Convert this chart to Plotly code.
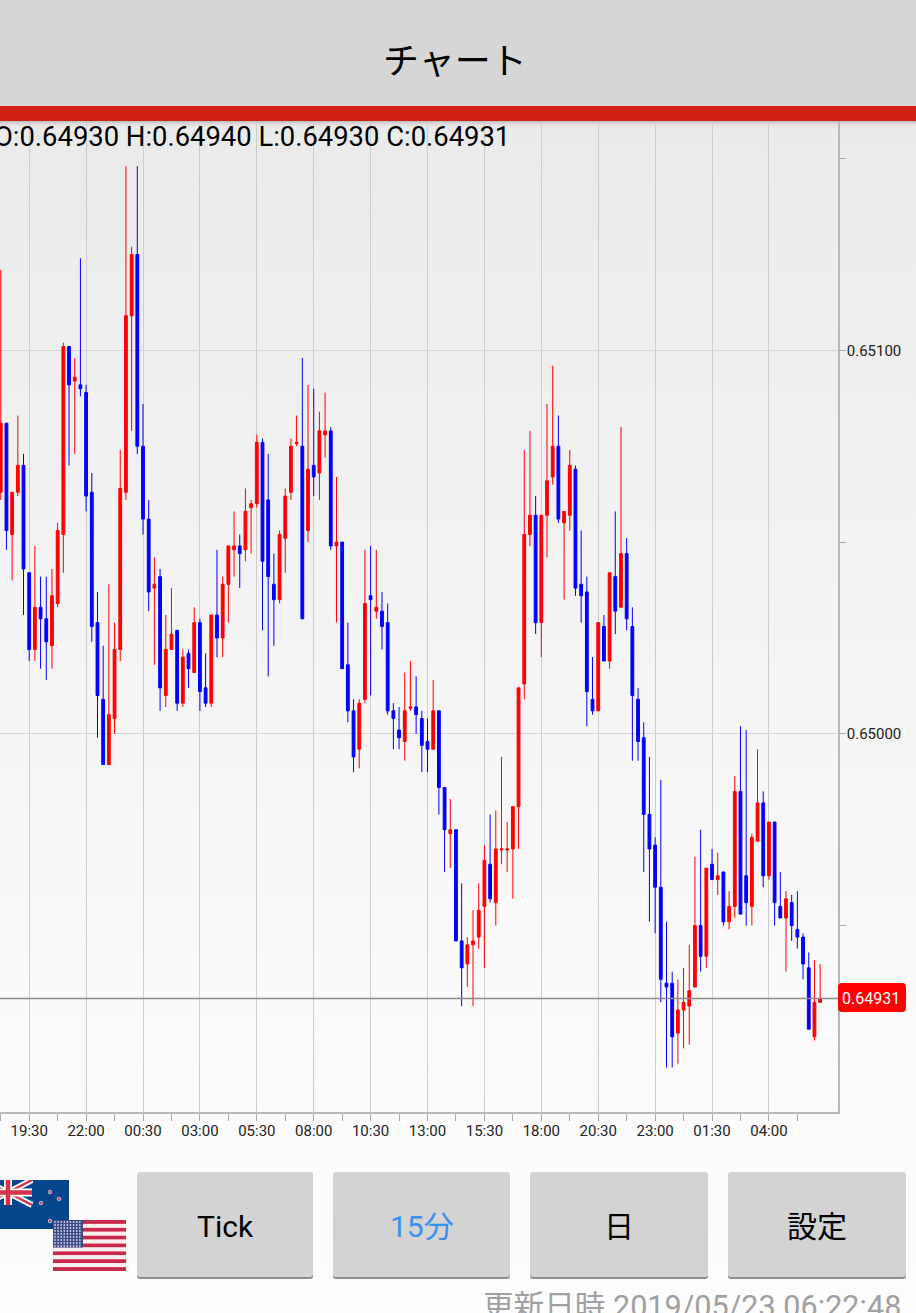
import base64
import pandas as pd
import plotly.graph_objects as go

W, H = 916, 1313
PL, PR, PT, PB = 0, 838, 121, 1112

times = pd.date_range("2019-05-21 18:15", periods=145, freq="15min")

open_pts = [65063,65081,65052,65063,65070,65042,65022,65033,65030,65023,
65034,65052,65101,65092,65091,65089,65063,65029,65009,64992,
65004,65022,65063,65109,65125,65075,65056,65038,65041,65010,
65022,65027,65008,65021,65016,65029,65012,65008,65031,65025,
65039,65048,65049,65048,65059,65060,65076,65061,65039,65035,
65051,65063,65075.7,65075,65053,65070,65068,65078,65079,65049,
65050,65018,65006,64996,65009,65036,65032,65032,65029,65006,
65001,64998,65006.7,65007,65004,64998,64996,65006,64986,64974,
64975,64946,64940,64945,64947,64955,64966,64956,64969.7,64969.7,
64970,64981,65013,65052,65057,65029,65057,65067,65075,65055,
65057,65069,65039,65037,65009,65006,65028,65019,65041,65033,
65047,65028,65009,64999,64979,64971,64960,64935,64935,64922,
64928,64929,64934,64950,64942,64966,64962,64964,64951,64955,
64985,64963,64955,64972,64982,64963,64977,64955,64952,64956,
64949,64947,64939,64921,64930]

close_pts = [65081,65053,65063,65070,65043,65022,65033,65030,65024,65036,
65053,65101,65091,65093,65090,65062,65028,65010,64992,65005,
65022,65064,65109,65125,65075,65056,65037,65039,65012,65022,
65026,65008,65020,65017,65029,65011,65008,65031,65025,65039,
65049,65049,65047,65058,65060,65076,65045,65041,65035,65052,
65062,65075,65076,65030,65069,65067,65079,65079,65049,65050,
65017,65006,64994,65008,65034,65035,65033,65028,65006,65004,
64999,65006,65007,65005,64997,64996,65006,64986,64975,64975,
64946,64939,64945,64946,64954,64967,64957,64970,64970,64970,
64981,65012,65052,65057,65029,65057,65066,65075,65056,65058,
65070,65038,65036,65011,65006,65029,65019,65042,65032,65047,
65030,65010,64998,64979,64970,64960,64936,64934,64921,64928,
64930,64933,64950,64942,64965,64962,64963,64951,64955,64985,
64953,64956,64973,64982,64963,64977,64956,64952,64957,64950,
64947,64940,64923,64930,64931]

high_pts = [65121,65081,65063,65083,65073,65042,65049,65041,65041,65043,
65055,65102,65101,65098,65124,65091,65068,65037,65023,65039,
65029,65074,65148,65127,65148,65086,65061,65046,65043,65031,
65038,65027,65022,65022,65033,65030,65021,65031,65048,65041,
65049,65058,65052,65064,65061,65078,65077,65073,65047,65053,
65064,65077,65083,65098,65091,65090,65084,65089,65080,65067,
65050,65029,65009,65009,65048,65049,65048,65037,65034,65008,
65007,65016,65019,65015,65006,65004,65014,65006,64986,64983,
64975,64961,64947,64954,64961,64971,64979,64980,64994,64977,
64981,65012,65074,65079,65062,65057,65086,65096,65083,65058,
65074,65070,65053,65041,65020,65029,65031,65042,65058,65080,
65051,65033,65012,65003,64994,64973,64988,64951,64938,64936,
64939,64945,64968,64975,64965,64970,64969,64964,64959,64989,
65002,65001,64974,64996,64985,64977,64977,64964,64959,64958,
64959,64948,64943,64941,64940]

low_pts = [65061,65048,65040,65062,65031,65019,65019,65017,65014,65017,
65033,65042,65070,65073,65088,65058,65024,64999,64992,64992,
65000,65019,65061,65079,65073,65052,65032,65018,65006,65007,
65022,65006,65007,65012,65016,65006,65007,65007,65020,65020,
65029,65041,65038,65045,65047,65059,65027,65015,65023,65034,
65042,65061,65075,65030,65050,65062,65061,65072,65048,65029,
65017,65003,64990,64991,65008,65010,65030,65022,65005,64996,
64996,64993,65006,65000,64990,64990,64996,64979,64964,64965,
64946,64929,64934,64929,64944,64939,64956,64950,64966,64964,
64957,64970,65009,65049,65026,65020,65046,65065,65055,65035,
65053,65036,65029,65002,65005,65006,65019,65017,65026,65033,
65027,64993,64993,64964,64951,64948,64930,64913,64913,64914,
64918,64919,64934,64938,64939,64962,64958,64950,64949,64952,
64953,64950,64950,64972,64960,64962,64950,64952,64938,64946,
64944,64936,64923,64920,64930]

time_labels = ["19:30","22:00","00:30","03:00","05:30","08:00","10:30","13:00",
               "15:30","18:00","20:30","23:00","01:30","04:00"]
price_major = [0.65, 0.651]
price_minor = [0.6495, 0.6505, 0.6515]
last_price = 0.64931
ohlc_text = "O:0.64930 H:0.64940 L:0.64930 C:0.64931"
updated_text = "更新日時 2019/05/23 06:22:48"
buttons = [("Tick", "#000000"), ("15分", "#3a8fee"), ("日", "#000000"), ("設定", "#000000")]


def scale(v):
    return [p * 1e-5 for p in v]


def px(x):
    return (x - PL) / (PR - PL)


def py(y):
    return (PB - y) / (PB - PT)


def svg_uri(svg):
    return "data:image/svg+xml;base64," + base64.b64encode(svg.encode()).decode()


def rrect(x0, y0, x1, y1, r):
    X0, X1, Y0, Y1 = px(x0), px(x1), py(y0), py(y1)
    rx, ry = r / (PR - PL), r / (PB - PT)
    return (f"M{X0+rx},{Y0} L{X1-rx},{Y0} Q{X1},{Y0} {X1},{Y0-ry} L{X1},{Y1+ry} "
            f"Q{X1},{Y1} {X1-rx},{Y1} L{X0+rx},{Y1} Q{X0},{Y1} {X0},{Y1+ry} L{X0},{Y0-ry} Q{X0},{Y0} {X0+rx},{Y0} Z")


def rect(x0, y0, x1, y1, color, layer="above"):
    return dict(type="rect", xref="paper", yref="paper", x0=px(x0), x1=px(x1), y0=py(y0), y1=py(y1),
                fillcolor=color, line_width=0, layer=layer)


def label(x, y, text, size, color, anchor="center", family="Roboto", vanchor="middle"):
    return dict(xref="paper", yref="paper", x=px(x), y=py(y), text=text, showarrow=False, xanchor=anchor,
                yanchor=vanchor, font=dict(size=size, color=color, family=family))


background = f"""<svg xmlns='http://www.w3.org/2000/svg' width='{W}' height='{H}' preserveAspectRatio='none'>
<defs><linearGradient id='g' x1='0' y1='0' x2='0' y2='1'>
<stop offset='0' stop-color='#e8e8e8'/><stop offset='0.80' stop-color='#fbfbfb'/><stop offset='1' stop-color='#fdfdfd'/>
</linearGradient><linearGradient id='s' x1='0' y1='0' x2='0' y2='1'>
<stop offset='0' stop-color='#bdbdbd'/><stop offset='1' stop-color='#e8e8e8' stop-opacity='0'/>
</linearGradient></defs>
<rect width='{W}' height='{H}' fill='url(#g)'/><rect y='121' width='{W}' height='7' fill='url(#s)'/></svg>"""

nz_flag = """<svg xmlns='http://www.w3.org/2000/svg' width='85' height='49' viewBox='0 0 85 49' preserveAspectRatio='none'>
<rect width='85' height='49' fill='#03468c'/>
<g><rect width='48' height='25' fill='#03468c'/>
<path d='M0 0L48 25M48 0L0 25' stroke='#fff' stroke-width='6'/>
<path d='M0 0L48 25M48 0L0 25' stroke='#d8324a' stroke-width='2.4'/>
<path d='M24 0V25M0 12.5H48' stroke='#fff' stroke-width='8'/>
<path d='M24 0V25M0 12.5H48' stroke='#d8324a' stroke-width='4.5'/></g>
<g fill='#d0455f' stroke='#fff' stroke-width='0.6'><circle cx='66' cy='12' r='1.8'/><circle cx='75' cy='19' r='1.8'/>
<circle cx='57' cy='23' r='1.8'/><circle cx='66' cy='41' r='1.8'/></g></svg>"""

us_stripes = "".join(
    f"<rect y='{i * 51 / 13:.2f}' width='73' height='{51 / 13:.2f}' fill='{'#c8284a' if i % 2 == 0 else '#f6f0f0'}'/>"
    for i in range(13))
us_stars = "".join(f"<circle cx='{2 + c * 3.1:.1f}' cy='{2 + r * 3.0:.1f}' r='0.9' fill='#c8cce0'/>"
                   for r in range(9) for c in range(9))
us_flag = f"""<svg xmlns='http://www.w3.org/2000/svg' width='73' height='51' viewBox='0 0 73 51' preserveAspectRatio='none'>
{us_stripes}<rect width='30' height='27.5' fill='#3c4a86'/>{us_stars}</svg>"""

fig = go.Figure(go.Candlestick(
    x=times,
    open=scale(open_pts), high=scale(high_pts), low=scale(low_pts), close=scale(close_pts),
    increasing=dict(line=dict(color="#ff0000", width=1), fillcolor="#ff0000"),
    decreasing=dict(line=dict(color="#0000ff", width=1), fillcolor="#0000ff"),
    showlegend=False,
))

shapes = [
    rect(-1, 0, W, 106, "#d6d6d6"),
    rect(-1, 106, W, 121, "#d02014"),
    dict(type="line", xref="paper", yref="y", x0=0, x1=1, y0=last_price, y1=last_price,
         line=dict(color="#8a8a8a", width=1.5), layer="above"),
    dict(type="path", xref="paper", yref="paper", path=rrect(838, 983, 906, 1012, 4),
         fillcolor="#ff0000", line_width=0, layer="above"),
]
button_boxes = [(137, 313), (333, 510), (530, 708), (728, 906)]
annotations = [
    label(455, 58, "チャート", 36, "#000000", family="Noto Sans CJK JP"),
    label(-8, 137, ohlc_text, 27.4, "#000000", anchor="left"),
    label(871, 998, "0.64931", 16, "#ffffff"),
    label(903, 1306, updated_text, 30.6, "#a0a0a0", anchor="right", family="Roboto, Noto Sans CJK JP"),
]
for (x0, x1), (text, color) in zip(button_boxes, buttons):
    shapes.append(dict(type="path", xref="paper", yref="paper", path=rrect(x0, 1174, x1, 1279, 3),
                       fillcolor="#8c8c8c", line_width=0, layer="above"))
    shapes.append(dict(type="path", xref="paper", yref="paper", path=rrect(x0, 1172, x1, 1277, 3),
                       fillcolor="#d3d3d3", line_width=0, layer="above"))
    annotations.append(label((x0 + x1) / 2, 1226, text, 30, color, family="Roboto, Noto Sans CJK JP"))

images = [
    dict(source=svg_uri(background), xref="paper", yref="paper", x=px(0), y=py(0), sizex=px(W), sizey=py(0) - py(H),
         xanchor="left", yanchor="top", sizing="stretch", layer="below"),
    dict(source=svg_uri(nz_flag), xref="paper", yref="paper", x=px(-16), y=py(1180), sizex=px(85), sizey=py(0) - py(49),
         xanchor="left", yanchor="top", sizing="stretch", layer="above"),
    dict(source=svg_uri(us_flag), xref="paper", yref="paper", x=px(53), y=py(1220), sizex=px(73), sizey=py(0) - py(51),
         xanchor="left", yanchor="top", sizing="stretch", layer="above"),
]

step = pd.Timedelta(minutes=15)
fig.update_layout(
    width=W, height=H, autosize=False,
    margin=dict(l=PL, r=W - PR, t=PT, b=H - PB, pad=0),
    paper_bgcolor="rgba(0,0,0,0)", plot_bgcolor="rgba(0,0,0,0)",
    shapes=shapes, annotations=annotations, images=images,
    font=dict(family="Roboto", color="#222222"),
    xaxis=dict(
        type="date", rangeslider=dict(visible=False),
        range=[times[0] - 0.132 * step, times[0] + 147.14 * step],
        tickmode="array", tickvals=list(times[5::10]), ticktext=time_labels,
        ticks="outside", ticklen=7, tickcolor="#a8a8a8", tickwidth=1,
        ticklabelstandoff=-3,
        tickfont=dict(size=15, color="#222222"),
        showgrid=True, gridcolor="#cdcdcd", gridwidth=1,
        showline=True, linecolor="#b8b8b8", linewidth=1.5,
        zeroline=False,
        minor=dict(tickmode="array", tickvals=list(times[0::10]), ticks="outside", ticklen=7,
                   tickcolor="#a8a8a8", showgrid=False),
    ),
    yaxis=dict(
        side="right", range=[0.649014, 0.651598],
        tickmode="array", tickvals=price_major, tickformat=".5f",
        ticks="outside", ticklen=6, tickcolor="#a8a8a8", tickwidth=1,
        ticklabelstandoff=-2,
        tickfont=dict(size=15, color="#222222"),
        showgrid=True, gridcolor="#d6d6d6", gridwidth=1,
        showline=True, linecolor="#b8b8b8", linewidth=1.5,
        zeroline=False,
        minor=dict(tickmode="array", tickvals=price_minor, ticks="outside", ticklen=6,
                   tickcolor="#a8a8a8", showgrid=False),
    ),
)

fig.write_html("out.html", config=dict(displayModeBar=False),
               post_script="document.body.style.margin='0';document.documentElement.style.overflow='hidden';")
